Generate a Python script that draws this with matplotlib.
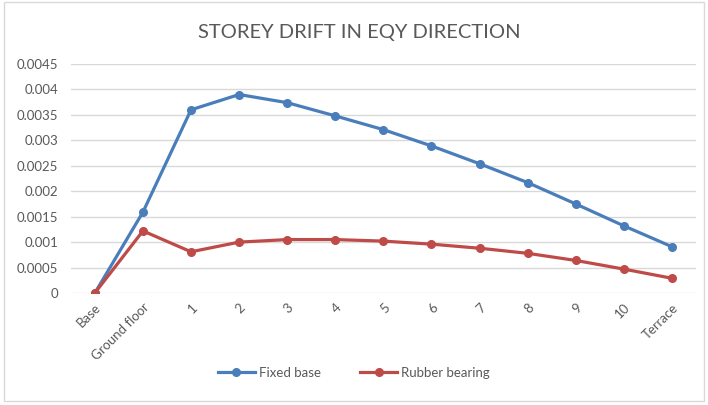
import matplotlib.pyplot as plt
from matplotlib.patches import Rectangle

floors = ["Base", "Ground floor", "1", "2", "3", "4", "5", "6", "7", "8", "9", "10", "Terrace"]
fixed_base = [0, 0.00159, 0.0036, 0.0039, 0.00374, 0.00348, 0.00321, 0.00289,
              0.00254, 0.00217, 0.00175, 0.00132, 0.00091]
rubber_bearing = [0, 0.00122, 0.00081, 0.001, 0.00105, 0.00105, 0.00102, 0.00096,
                  0.00088, 0.00078, 0.00064, 0.00047, 0.00029]
yticks = [0, 0.0005, 0.001, 0.0015, 0.002, 0.0025, 0.003, 0.0035, 0.004, 0.0045]
ytick_labels = ["0", "0.0005", "0.001", "0.0015", "0.002", "0.0025", "0.003", "0.0035", "0.004", "0.0045"]

plt.rcParams['font.family'] = ['Lato', 'DejaVu Sans']
text_col = "#595959"

fig = plt.figure(figsize=(7.08, 4.05), dpi=100)
ax = fig.add_axes([0.100, 0.2765, 0.883, 0.5655])

x = range(len(floors))
ax.plot(x, fixed_base, color="#4A7EBB", lw=2.3, marker="o", ms=5.5, label="Fixed base")
ax.plot(x, rubber_bearing, color="#BE4B48", lw=2.3, marker="o", ms=5.5, label="Rubber bearing")

ax.set_xlim(-0.5, len(floors) - 0.5)
ax.set_ylim(0, 0.0045)
ax.set_yticks(yticks)
ax.set_yticklabels(ytick_labels)
ax.set_xticks(list(x))
ax.set_xticklabels(floors, rotation=45, ha="right", rotation_mode="anchor")
ax.tick_params(axis="both", length=0, colors=text_col, labelsize=9.5)
ax.tick_params(axis="y", pad=9)
ax.tick_params(axis="x", pad=6)
ax.grid(axis="y", color="#D9D9D9", lw=1)
ax.set_axisbelow(True)
for s in ax.spines.values():
    s.set_visible(False)

fig.text(0.507, 0.92, "STOREY DRIFT IN EQY DIRECTION", ha="center", va="center",
         fontsize=14.5, color=text_col)

ax.legend(loc="center", bbox_to_anchor=(0.5, 0.08), bbox_transform=fig.transFigure,
          ncol=2, frameon=False, fontsize=9.5, labelcolor=text_col,
          handlelength=2.8, columnspacing=3, handletextpad=0.3)

fig.patches.append(Rectangle((0.006, 0.01), 0.988, 0.985, transform=fig.transFigure,
                             fill=False, edgecolor="#D9D9D9", lw=1))

fig.savefig("out.png", dpi=100)
